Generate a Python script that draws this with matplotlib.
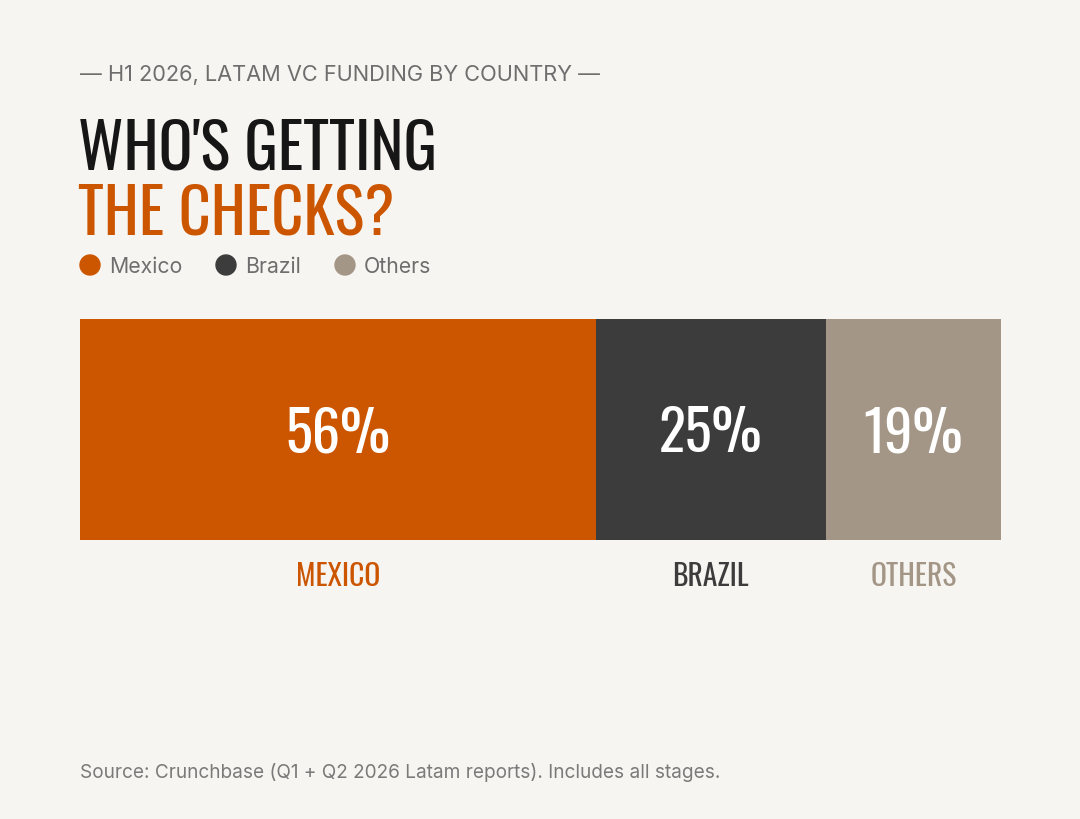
import matplotlib
matplotlib.use("Agg")
import matplotlib.pyplot as plt
from matplotlib.patches import Ellipse

# data
countries = ["Mexico", "Brazil", "Others"]
shares = [56, 25, 19]
colors = ["#cc5500", "#3c3c3c", "#a39686"]
label_colors = ["#cc5500", "#3c3c3c", "#a39686"]

subtitle = "— H1 2026, LATAM VC FUNDING BY COUNTRY —"
title_1 = "WHO'S GETTING"
title_2 = "THE CHECKS?"
source = "Source: Crunchbase (Q1 + Q2 2026 Latam reports). Includes all stages."

BG = "#f7f5f1"
W, H = 1080, 820
HEAD = ["Oswald", "Roboto Condensed", "DejaVu Sans"]
BODY = ["Inter", "DejaVu Sans"]

fig = plt.figure(figsize=(W / 100, H / 100), dpi=100, facecolor=BG)


def fx(px):
    return px / W


def fy(py):
    return 1 - py / H


fig.text(fx(80), fy(75), subtitle, fontsize=15.7, color="#6e6e6e",
         family=BODY, va="center", ha="left")
fig.text(fx(78), fy(150), title_1, fontsize=45, color="#161616",
         family=HEAD, va="center", ha="left")
fig.text(fx(78), fy(215), title_2, fontsize=45, color="#cc5500",
         family=HEAD, va="center", ha="left")

# legend row
leg_x = [90, 226, 345]
for x, name, c in zip(leg_x, countries, colors):
    fig.patches.append(Ellipse((fx(x), fy(266)), 20 / W, 20 / H, color=c,
                               transform=fig.transFigure, figure=fig))
    fig.text(fx(x + 19), fy(267), name, fontsize=15.3, color="#6e6e6e",
             family=BODY, va="center", ha="left")

# stacked bar
bar_h = 541 - 320
ax = fig.add_axes([fx(80), fy(541), fx(1001) - fx(80), bar_h / H])
ax.set_facecolor(BG)
left = 0
for name, v, c, lc in zip(countries, shares, colors, label_colors):
    ax.barh(0, v, left=left, height=1, color=c, edgecolor="none")
    mid = left + v / 2
    ax.text(mid, -4 / bar_h, f"{v}%", fontsize=40.5, color="white", family=HEAD,
            ha="center", va="center")
    ax.text(mid, -0.5 - 35 / bar_h, name.upper(), fontsize=21.3, color=lc,
            family=HEAD, ha="center", va="center")
    left += v
ax.set_xlim(0, 100)
ax.set_ylim(-0.5, 0.5)
ax.axis("off")

fig.text(fx(80), fy(773), source, fontsize=13.7, color="#7a7a7a",
         family=BODY, va="center", ha="left")

fig.savefig("out.png", dpi=100, facecolor=BG)
